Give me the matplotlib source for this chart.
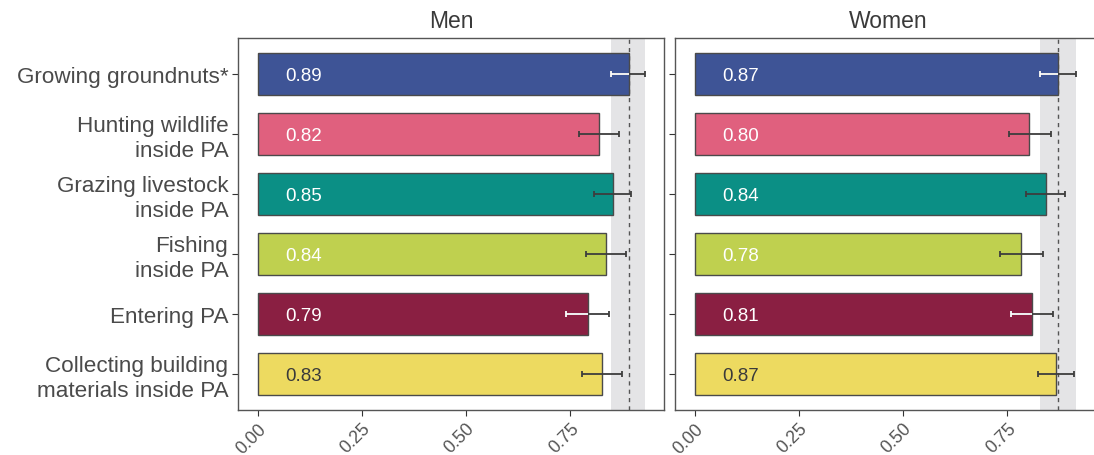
import matplotlib
matplotlib.use("Agg")
import matplotlib.pyplot as plt
import numpy as np

plt.rcParams['font.family'] = ['Liberation Sans', 'DejaVu Sans']

categories = [
    "Growing groundnuts*",
    "Hunting wildlife\ninside PA",
    "Grazing livestock\ninside PA",
    "Fishing\ninside PA",
    "Entering PA",
    "Collecting building\nmaterials inside PA",
]
bar_colors = ["#3E5496", "#E0607E", "#0B8F85", "#BFD04F", "#8A1F42", "#EDDA60"]
label_colors = ["white", "white", "white", "white", "white", "#3a3a3a"]
inner_err_white = [True, False, False, False, True, False]

men_mean = [0.890, 0.820, 0.853, 0.837, 0.792, 0.826]
men_lo = [0.849, 0.770, 0.807, 0.789, 0.739, 0.778]
men_hi = [0.929, 0.868, 0.897, 0.883, 0.843, 0.875]

women_mean = [0.872, 0.803, 0.843, 0.783, 0.809, 0.868]
women_lo = [0.829, 0.754, 0.796, 0.732, 0.758, 0.823]
women_hi = [0.914, 0.855, 0.889, 0.836, 0.859, 0.911]

panels = [("Men", men_mean, men_lo, men_hi), ("Women", women_mean, women_lo, women_hi)]
x_ticks = [0.0, 0.25, 0.50, 0.75]

W, H = 1094, 456
fig = plt.figure(figsize=(W / 100, H / 100), dpi=100)

axes_px = [(238, 39, 426, 372), (675, 39, 426, 372)]
txt_col = "#4a4a4a"
edge_col = "#4a4a4a"

for (title, mean, lo, hi), (px, py, pw, ph) in zip(panels, axes_px):
    ax = fig.add_axes([px / W, 1 - (py + ph) / H, pw / W, ph / H])
    y = np.arange(1, len(categories) + 1)

    # reference: first category's estimate and its interval
    ax.axvspan(lo[0], hi[0], color="#E4E4E6", zorder=0, lw=0)
    ax.axvline(mean[0], color="#555555", ls=(0, (3, 3)), lw=1.0, zorder=1)

    ax.barh(y, mean, height=0.7, color=bar_colors, edgecolor=edge_col, linewidth=1.0, zorder=2)

    for i in range(len(categories)):
        ax.errorbar(mean[i], y[i], xerr=[[mean[i] - lo[i]], [hi[i] - mean[i]]],
                    fmt="none", ecolor="#3d3d3d", elinewidth=1.3, capsize=2.3,
                    capthick=1.3, zorder=3)
        if inner_err_white[i]:
            ax.plot([lo[i], min(mean[i], hi[i])], [y[i], y[i]], color="white", lw=1.3,
                    zorder=4, solid_capstyle="butt")
            ax.plot([lo[i], lo[i]], [y[i] - 0.05, y[i] + 0.05], color="white", lw=1.3,
                    zorder=4, solid_capstyle="butt")
        ax.text(0.066, y[i], f"{mean[i]:.2f}", color=label_colors[i], fontsize=13.5,
                va="center_baseline", ha="left", zorder=5)

    ax.set_xlim(-0.047, 0.975)
    ax.set_ylim(6.6, 0.4)
    ax.set_xticks(x_ticks)
    ax.set_xticklabels([f"{t:.2f}" for t in x_ticks], rotation=45, ha="right",
                       rotation_mode="anchor", fontsize=12.8, color="#555555")
    ax.set_yticks(y)
    if title == "Men":
        ax.set_yticklabels(categories, fontsize=16.2, color=txt_col, linespacing=1.2)
    else:
        ax.set_yticklabels([])
    ax.tick_params(axis="both", length=4, width=0.8, color="#333333", pad=3)
    for s in ax.spines.values():
        s.set_color("#555555")
        s.set_linewidth(1.0)
    ax.set_title(title, fontsize=16.5, color="#3a3a3a", pad=8)

fig.savefig("out.png", dpi=100)
